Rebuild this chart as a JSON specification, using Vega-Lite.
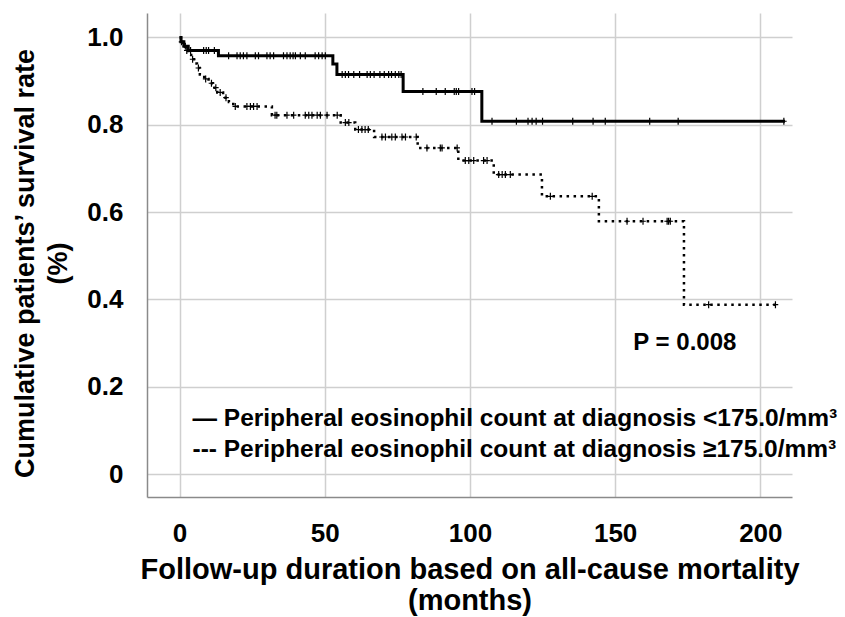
{
  "$schema": "https://vega.github.io/schema/vega-lite/v6.json",
  "width": 645,
  "height": 484,
  "autosize": {"type": "none"},
  "padding": {"left": 147, "top": 13, "right": 53, "bottom": 120},
  "background": "white",
  "config": {
    "font": "Liberation Sans",
    "view": {"stroke": null},
    "axis": {
      "domainColor": "#8a8a8a",
      "domainWidth": 1.5,
      "gridColor": "#cfcfcf",
      "gridWidth": 1.5,
      "ticks": false,
      "labelFont": "Liberation Sans",
      "labelFontWeight": "bold",
      "labelFontSize": 26,
      "labelColor": "#000000",
      "titleFont": "Liberation Sans",
      "titleFontWeight": "bold",
      "titleFontSize": 29,
      "titleColor": "#000000"
    }
  },
  "datasets": {
    "curve": [
      {"g": "<175.0/mm³", "t": 0, "s": 1.0},
      {"g": "<175.0/mm³", "t": 0.5, "s": 0.99},
      {"g": "<175.0/mm³", "t": 1.5, "s": 0.98},
      {"g": "<175.0/mm³", "t": 3, "s": 0.97},
      {"g": "<175.0/mm³", "t": 13.4, "s": 0.958},
      {"g": "<175.0/mm³", "t": 52.8, "s": 0.939},
      {"g": "<175.0/mm³", "t": 54.2, "s": 0.915},
      {"g": "<175.0/mm³", "t": 77, "s": 0.876},
      {"g": "<175.0/mm³", "t": 104.1, "s": 0.808},
      {"g": "<175.0/mm³", "t": 208.5, "s": 0.808},
      {"g": "≥175.0/mm³", "t": 0, "s": 1.0},
      {"g": "≥175.0/mm³", "t": 0.5, "s": 0.99},
      {"g": "≥175.0/mm³", "t": 1, "s": 0.98},
      {"g": "≥175.0/mm³", "t": 2, "s": 0.97},
      {"g": "≥175.0/mm³", "t": 3, "s": 0.96},
      {"g": "≥175.0/mm³", "t": 4, "s": 0.95},
      {"g": "≥175.0/mm³", "t": 5, "s": 0.94},
      {"g": "≥175.0/mm³", "t": 6, "s": 0.93},
      {"g": "≥175.0/mm³", "t": 7, "s": 0.915},
      {"g": "≥175.0/mm³", "t": 8.5, "s": 0.905},
      {"g": "≥175.0/mm³", "t": 10, "s": 0.895},
      {"g": "≥175.0/mm³", "t": 11.5, "s": 0.885},
      {"g": "≥175.0/mm³", "t": 13, "s": 0.874},
      {"g": "≥175.0/mm³", "t": 15, "s": 0.862},
      {"g": "≥175.0/mm³", "t": 17, "s": 0.852},
      {"g": "≥175.0/mm³", "t": 18.5, "s": 0.842},
      {"g": "≥175.0/mm³", "t": 31.8, "s": 0.822},
      {"g": "≥175.0/mm³", "t": 55.5, "s": 0.805},
      {"g": "≥175.0/mm³", "t": 60.5, "s": 0.789},
      {"g": "≥175.0/mm³", "t": 67, "s": 0.772},
      {"g": "≥175.0/mm³", "t": 82, "s": 0.747},
      {"g": "≥175.0/mm³", "t": 96, "s": 0.718},
      {"g": "≥175.0/mm³", "t": 108.2, "s": 0.686},
      {"g": "≥175.0/mm³", "t": 124.8, "s": 0.636},
      {"g": "≥175.0/mm³", "t": 144.4, "s": 0.579},
      {"g": "≥175.0/mm³", "t": 173.7, "s": 0.388},
      {"g": "≥175.0/mm³", "t": 205.5, "s": 0.388}
    ],
    "censor": [
      {"g": "<175.0/mm³", "t": 2, "s": 0.98},
      {"g": "<175.0/mm³", "t": 3.8, "s": 0.97},
      {"g": "<175.0/mm³", "t": 8.3, "s": 0.97},
      {"g": "<175.0/mm³", "t": 9.2, "s": 0.97},
      {"g": "<175.0/mm³", "t": 10, "s": 0.97},
      {"g": "<175.0/mm³", "t": 12, "s": 0.97},
      {"g": "<175.0/mm³", "t": 16.9, "s": 0.958},
      {"g": "<175.0/mm³", "t": 19.8, "s": 0.958},
      {"g": "<175.0/mm³", "t": 20.9, "s": 0.958},
      {"g": "<175.0/mm³", "t": 22, "s": 0.958},
      {"g": "<175.0/mm³", "t": 23.2, "s": 0.958},
      {"g": "<175.0/mm³", "t": 26.1, "s": 0.958},
      {"g": "<175.0/mm³", "t": 27.2, "s": 0.958},
      {"g": "<175.0/mm³", "t": 30.1, "s": 0.958},
      {"g": "<175.0/mm³", "t": 31.2, "s": 0.958},
      {"g": "<175.0/mm³", "t": 32.4, "s": 0.958},
      {"g": "<175.0/mm³", "t": 35.8, "s": 0.958},
      {"g": "<175.0/mm³", "t": 37, "s": 0.958},
      {"g": "<175.0/mm³", "t": 38.1, "s": 0.958},
      {"g": "<175.0/mm³", "t": 39.1, "s": 0.958},
      {"g": "<175.0/mm³", "t": 39.9, "s": 0.958},
      {"g": "<175.0/mm³", "t": 41.6, "s": 0.958},
      {"g": "<175.0/mm³", "t": 43.3, "s": 0.958},
      {"g": "<175.0/mm³", "t": 46.7, "s": 0.958},
      {"g": "<175.0/mm³", "t": 47.9, "s": 0.958},
      {"g": "<175.0/mm³", "t": 49.1, "s": 0.958},
      {"g": "<175.0/mm³", "t": 50.2, "s": 0.958},
      {"g": "<175.0/mm³", "t": 56, "s": 0.915},
      {"g": "<175.0/mm³", "t": 57.1, "s": 0.915},
      {"g": "<175.0/mm³", "t": 58.2, "s": 0.915},
      {"g": "<175.0/mm³", "t": 60, "s": 0.915},
      {"g": "<175.0/mm³", "t": 62, "s": 0.915},
      {"g": "<175.0/mm³", "t": 64.6, "s": 0.915},
      {"g": "<175.0/mm³", "t": 65.7, "s": 0.915},
      {"g": "<175.0/mm³", "t": 67, "s": 0.915},
      {"g": "<175.0/mm³", "t": 69, "s": 0.915},
      {"g": "<175.0/mm³", "t": 70.5, "s": 0.915},
      {"g": "<175.0/mm³", "t": 72, "s": 0.915},
      {"g": "<175.0/mm³", "t": 73, "s": 0.915},
      {"g": "<175.0/mm³", "t": 74.3, "s": 0.915},
      {"g": "<175.0/mm³", "t": 75.5, "s": 0.915},
      {"g": "<175.0/mm³", "t": 76.3, "s": 0.915},
      {"g": "<175.0/mm³", "t": 83.8, "s": 0.876},
      {"g": "<175.0/mm³", "t": 88.4, "s": 0.876},
      {"g": "<175.0/mm³", "t": 91.5, "s": 0.876},
      {"g": "<175.0/mm³", "t": 94.6, "s": 0.876},
      {"g": "<175.0/mm³", "t": 95.3, "s": 0.876},
      {"g": "<175.0/mm³", "t": 96.1, "s": 0.876},
      {"g": "<175.0/mm³", "t": 100.7, "s": 0.876},
      {"g": "<175.0/mm³", "t": 101.6, "s": 0.876},
      {"g": "<175.0/mm³", "t": 107.6, "s": 0.808},
      {"g": "<175.0/mm³", "t": 116, "s": 0.808},
      {"g": "<175.0/mm³", "t": 120, "s": 0.808},
      {"g": "<175.0/mm³", "t": 121.4, "s": 0.808},
      {"g": "<175.0/mm³", "t": 122.8, "s": 0.808},
      {"g": "<175.0/mm³", "t": 125, "s": 0.808},
      {"g": "<175.0/mm³", "t": 135.4, "s": 0.808},
      {"g": "<175.0/mm³", "t": 142.4, "s": 0.808},
      {"g": "<175.0/mm³", "t": 146.6, "s": 0.808},
      {"g": "<175.0/mm³", "t": 161.9, "s": 0.808},
      {"g": "<175.0/mm³", "t": 171.7, "s": 0.808},
      {"g": "<175.0/mm³", "t": 208.1, "s": 0.808},
      {"g": "≥175.0/mm³", "t": 0.7, "s": 0.99},
      {"g": "≥175.0/mm³", "t": 2.5, "s": 0.97},
      {"g": "≥175.0/mm³", "t": 4.5, "s": 0.95},
      {"g": "≥175.0/mm³", "t": 6.5, "s": 0.93},
      {"g": "≥175.0/mm³", "t": 9, "s": 0.905},
      {"g": "≥175.0/mm³", "t": 11, "s": 0.895},
      {"g": "≥175.0/mm³", "t": 12.5, "s": 0.885},
      {"g": "≥175.0/mm³", "t": 14, "s": 0.874},
      {"g": "≥175.0/mm³", "t": 16, "s": 0.862},
      {"g": "≥175.0/mm³", "t": 19.2, "s": 0.842},
      {"g": "≥175.0/mm³", "t": 23.2, "s": 0.842},
      {"g": "≥175.0/mm³", "t": 24.4, "s": 0.842},
      {"g": "≥175.0/mm³", "t": 25.5, "s": 0.842},
      {"g": "≥175.0/mm³", "t": 26.7, "s": 0.842},
      {"g": "≥175.0/mm³", "t": 32.9, "s": 0.822},
      {"g": "≥175.0/mm³", "t": 33.5, "s": 0.822},
      {"g": "≥175.0/mm³", "t": 37, "s": 0.822},
      {"g": "≥175.0/mm³", "t": 39.3, "s": 0.822},
      {"g": "≥175.0/mm³", "t": 43.3, "s": 0.822},
      {"g": "≥175.0/mm³", "t": 44.5, "s": 0.822},
      {"g": "≥175.0/mm³", "t": 45.6, "s": 0.822},
      {"g": "≥175.0/mm³", "t": 47.4, "s": 0.822},
      {"g": "≥175.0/mm³", "t": 48.5, "s": 0.822},
      {"g": "≥175.0/mm³", "t": 50.8, "s": 0.822},
      {"g": "≥175.0/mm³", "t": 54.3, "s": 0.822},
      {"g": "≥175.0/mm³", "t": 57.1, "s": 0.805},
      {"g": "≥175.0/mm³", "t": 58.3, "s": 0.805},
      {"g": "≥175.0/mm³", "t": 61.6, "s": 0.789},
      {"g": "≥175.0/mm³", "t": 62.8, "s": 0.789},
      {"g": "≥175.0/mm³", "t": 63.9, "s": 0.789},
      {"g": "≥175.0/mm³", "t": 65, "s": 0.789},
      {"g": "≥175.0/mm³", "t": 69.7, "s": 0.772},
      {"g": "≥175.0/mm³", "t": 70.9, "s": 0.772},
      {"g": "≥175.0/mm³", "t": 73.1, "s": 0.772},
      {"g": "≥175.0/mm³", "t": 74.3, "s": 0.772},
      {"g": "≥175.0/mm³", "t": 76.6, "s": 0.772},
      {"g": "≥175.0/mm³", "t": 77.8, "s": 0.772},
      {"g": "≥175.0/mm³", "t": 81.5, "s": 0.772},
      {"g": "≥175.0/mm³", "t": 85.2, "s": 0.747},
      {"g": "≥175.0/mm³", "t": 89.8, "s": 0.747},
      {"g": "≥175.0/mm³", "t": 90.4, "s": 0.747},
      {"g": "≥175.0/mm³", "t": 95.6, "s": 0.747},
      {"g": "≥175.0/mm³", "t": 98.4, "s": 0.718},
      {"g": "≥175.0/mm³", "t": 99.6, "s": 0.718},
      {"g": "≥175.0/mm³", "t": 101.3, "s": 0.718},
      {"g": "≥175.0/mm³", "t": 104.7, "s": 0.718},
      {"g": "≥175.0/mm³", "t": 105.9, "s": 0.718},
      {"g": "≥175.0/mm³", "t": 109.9, "s": 0.686},
      {"g": "≥175.0/mm³", "t": 111.1, "s": 0.686},
      {"g": "≥175.0/mm³", "t": 112.2, "s": 0.686},
      {"g": "≥175.0/mm³", "t": 113.9, "s": 0.686},
      {"g": "≥175.0/mm³", "t": 127.7, "s": 0.636},
      {"g": "≥175.0/mm³", "t": 142.1, "s": 0.636},
      {"g": "≥175.0/mm³", "t": 154.1, "s": 0.579},
      {"g": "≥175.0/mm³", "t": 159.6, "s": 0.579},
      {"g": "≥175.0/mm³", "t": 167.9, "s": 0.579},
      {"g": "≥175.0/mm³", "t": 168.4, "s": 0.579},
      {"g": "≥175.0/mm³", "t": 169, "s": 0.579},
      {"g": "≥175.0/mm³", "t": 182.2, "s": 0.388},
      {"g": "≥175.0/mm³", "t": 205.2, "s": 0.388}
    ]
  },
  "layer": [
    {
      "data": {"name": "curve"},
      "transform": [{"filter": "datum.g == '<175.0/mm³'"}],
      "mark": {"type": "line", "interpolate": "step-after", "color": "#000000", "strokeWidth": 3},
      "encoding": {
        "x": {
          "field": "t",
          "type": "quantitative",
          "scale": {"domain": [-11.2, 210.9], "nice": false, "zero": false},
          "axis": {
            "values": [0, 50, 100, 150, 200],
            "labelPadding": 23,
            "title": ["Follow-up duration based on all-cause mortality", "(months)"],
            "titleY": 81,
            "titleBaseline": "alphabetic",
            "titleLineHeight": 31
          }
        },
        "y": {
          "field": "s",
          "type": "quantitative",
          "scale": {"domain": [-0.0524, 1.0559], "nice": false, "zero": false},
          "axis": {
            "values": [0, 0.2, 0.4, 0.6, 0.8, 1.0],
            "labelExpr": "datum.value == 0 ? '0' : format(datum.value, '.1f')",
            "labelPadding": 24,
            "title": ["Cumulative patients’   survival rate", "(%)"],
            "titleFontSize": 27,
            "titleX": -114,
            "titleY": 250,
            "titleAngle": -90,
            "titleAlign": "center",
            "titleBaseline": "alphabetic",
            "titleLineHeight": 33
          }
        },
        "strokeDash": {
          "field": "g",
          "type": "nominal",
          "scale": {"domain": ["<175.0/mm³", "≥175.0/mm³"], "range": [[1, 0], [2.5, 4.5]]},
          "legend": {
            "orient": "none",
            "legendX": 21,
            "legendY": 394,
            "title": null,
            "padding": 0,
            "symbolOpacity": 0,
            "symbolSize": 0,
            "symbolStrokeWidth": 0,
            "labelOffset": 0,
            "labelFont": "Liberation Sans",
            "labelFontWeight": "bold",
            "labelFontSize": 24.5,
            "labelColor": "#000000",
            "labelLimit": 1000,
            "rowPadding": 6.2,
            "labelExpr": "(datum.value == '<175.0/mm³' ? '—  ' : '---  ') + 'Peripheral eosinophil count at diagnosis ' + datum.value"
          }
        }
      }
    },
    {
      "data": {"name": "curve"},
      "transform": [{"filter": "datum.g == '≥175.0/mm³'"}],
      "mark": {"type": "line", "interpolate": "step-after", "color": "#000000", "strokeWidth": 2.5},
      "encoding": {
        "x": {"field": "t", "type": "quantitative"},
        "y": {"field": "s", "type": "quantitative"},
        "strokeDash": {"field": "g", "type": "nominal"}
      }
    },
    {
      "data": {"name": "censor"},
      "mark": {"type": "point", "shape": "M0,-1V1M-0.8,0H0.8", "filled": false, "stroke": "#000000", "strokeWidth": 1.2, "size": 49, "opacity": 1},
      "encoding": {
        "x": {"field": "t", "type": "quantitative"},
        "y": {"field": "s", "type": "quantitative"}
      }
    },
    {
      "data": {"values": [{}]},
      "mark": {"type": "text", "text": "P = 0.008", "font": "Liberation Sans", "fontWeight": "bold", "fontSize": 24, "align": "center", "baseline": "alphabetic", "color": "#000000"},
      "encoding": {
        "x": {"datum": 174, "type": "quantitative"},
        "y": {"datum": 0.2849, "type": "quantitative"}
      }
    }
  ]
}
